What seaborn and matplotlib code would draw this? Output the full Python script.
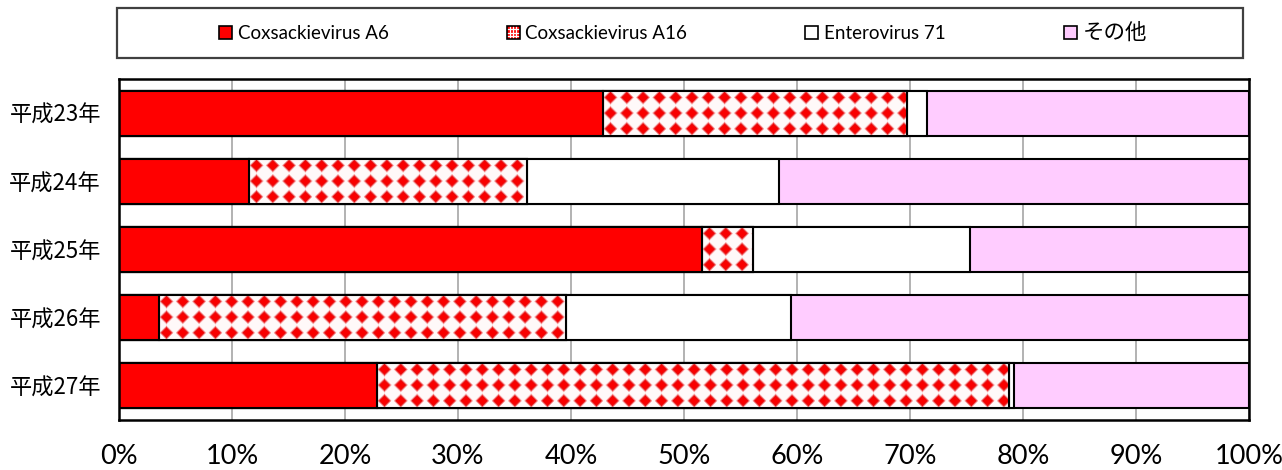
import numpy as np
import pandas as pd
import matplotlib
matplotlib.use("Agg")
import matplotlib.pyplot as plt
import matplotlib.patches as mpatches
from matplotlib.legend_handler import HandlerBase
from matplotlib.lines import Line2D
import seaborn as sns

# ---- data (percent of detected viruses per year) ----
years = ["平成23年", "平成24年", "平成25年", "平成26年", "平成27年"]
cva6 = [42.8, 11.5, 51.6, 3.5, 22.8]
cva16 = [26.9, 24.6, 4.5, 36.1, 56.0]
ev71 = [1.8, 22.3, 19.2, 19.9, 0.4]
other = [28.5, 41.6, 24.7, 40.5, 20.8]
series_names = ["Coxsackievirus A6", "Coxsackievirus A16", "Enterovirus 71", "その他"]
xtick_vals = [0, 10, 20, 30, 40, 50, 60, 70, 80, 90, 100]

sns.set_theme(style="white")
plt.rcParams["font.family"] = ["Lato", "Noto Sans CJK JP", "DejaVu Sans"]

RED = "#ff0000"
PINK = "#ffccff"

W, H, DPI = 1282, 470, 100
fig = plt.figure(figsize=(W / DPI, H / DPI), dpi=DPI)
ax_l, ax_r, ax_t, ax_b = 119, 1249, 79, 420
ax = fig.add_axes([ax_l / W, (H - ax_b) / H, (ax_r - ax_l) / W, (ax_b - ax_t) / H])

df = pd.DataFrame({"year": years, "a6": cva6, "a16": cva16, "ev71": ev71, "other": other})
df["c1"] = df["a6"]
df["c2"] = df["c1"] + df["a16"]
df["c3"] = df["c2"] + df["ev71"]
df["c4"] = df["c3"] + df["other"]

bar_w = 0.66
edge = dict(edgecolor="black", linewidth=1.5)

# stacked layers drawn from the outermost cumulative total inward
layers = [("c4", PINK, 2.0), ("c3", "white", 2.1), ("c2", "white", 2.2), ("c1", RED, 2.4)]
containers = {}
for col, color, z in layers:
    n_before = len(ax.patches)
    sns.barplot(data=df, x=col, y="year", orient="h", color=color, width=bar_w,
                saturation=1, ax=ax, **edge)
    new = ax.patches[n_before:]
    for p in new:
        p.set_zorder(z)
        p.set_facecolor(color)
    containers[col] = new

ax.set_xlim(0, 100)
ax.set_ylim(len(years) - 0.5, -0.5)

# diamond texture for the Coxsackievirus A16 segment
px_per_unit = (ax_r - ax_l) / 100.0
bar_px = bar_w * (ax_b - ax_t) / len(years)


def diamond_texture(w_px, h_px, sx=16.3, sy=15.3, ox=7.5, oy=7.3, a=6.6, b=6.4):
    xs = np.arange(w_px) + 0.5
    ys = np.arange(h_px) + 0.5
    X, Y = np.meshgrid(xs, ys)
    dx = ((X - ox) + sx / 2) % sx - sx / 2
    dy = ((Y - oy) + sy / 2) % sy - sy / 2
    d = np.abs(dx) / a + np.abs(dy) / b
    t = np.clip((1.15 - d) / 0.4, 0, 1)
    edge_shade = np.clip((d - 0.55) / 0.5, 0, 1) * t
    img = np.ones((h_px, w_px, 3))
    bg = np.array([1.0, 0.98, 0.98])
    fg = np.array([0.98, 0.0, 0.0])
    dark = np.array([0.80, 0.10, 0.12])
    img[:] = bg
    core = fg * (1 - edge_shade[..., None]) + dark * edge_shade[..., None]
    img = img * (1 - t[..., None]) + core * t[..., None]
    return np.clip(img, 0, 1)


for i, p in enumerate(containers["c2"]):
    x0, x1 = df["c1"][i], df["c2"][i]
    y0 = p.get_y()
    y1 = y0 + p.get_height()
    w_px = max(int(round((x1 - x0) * px_per_unit)), 1)
    h_px = max(int(round(bar_px)), 1)
    tex = diamond_texture(w_px, h_px)
    im = ax.imshow(tex, extent=(x0, x1, y1, y0), aspect="auto", interpolation="bilinear",
                   zorder=2.25)
    im.set_clip_path(p)
    # outline of the segment above the texture
    outline = mpatches.Rectangle((x0, y0), x1 - x0, y1 - y0, fill=False,
                                 edgecolor="black", linewidth=1.5, zorder=2.3)
    ax.add_patch(outline)

ax.set_ylim(len(years) - 0.5, -0.5)
ax.set_xlim(0, 100)
ax.set_aspect("auto")

# axes styling
ax.set_xticks(xtick_vals)
ax.set_xticklabels([f"{v}%" for v in xtick_vals], fontsize=19.5, family=["Lato", "DejaVu Sans"])
ax.set_yticks(range(len(years)))
ax.set_yticklabels(years, fontsize=16, family=["Noto Sans CJK JP", "DejaVu Sans"])
ax.tick_params(axis="x", length=0, pad=17, colors="black")
ax.tick_params(axis="y", length=0, pad=13, colors="black")
ax.set_xlabel("")
ax.set_ylabel("")
ax.xaxis.grid(True, color="#a6a6a6", linewidth=1.2)
ax.yaxis.grid(False)
ax.set_axisbelow(True)
for s in ax.spines.values():
    s.set_visible(True)
    s.set_color("black")
    s.set_linewidth(1.8)

# legend box
lx0, lx1, ly0, ly1 = 117, 1243, 8, 58
box = mpatches.Rectangle((lx0 / W, (H - ly1) / H), (lx1 - lx0) / W, (ly1 - ly0) / H,
                         transform=fig.transFigure, facecolor="white", edgecolor="#404040",
                         linewidth=1.6, zorder=0)
fig.patches.append(box)


class CheckerHandler(HandlerBase):
    def create_artists(self, legend, orig_handle, xdescent, ydescent, width, height,
                       fontsize, trans):
        arts = [mpatches.Rectangle((-xdescent, -ydescent), width, height, facecolor=RED,
                                   edgecolor="none", transform=trans)]
        for k in (1, 2, 3):
            xx = -xdescent + width * k / 4
            yy = -ydescent + height * k / 4
            arts.append(Line2D([xx, xx], [-ydescent, -ydescent + height], color="white",
                               lw=0.9, transform=trans))
            arts.append(Line2D([-xdescent, -xdescent + width], [yy, yy], color="white",
                               lw=0.9, transform=trans))
        arts.append(mpatches.Rectangle((-xdescent, -ydescent), width, height, fill=False,
                                       edgecolor="black", linewidth=1.2, transform=trans))
        return arts


class CheckerPatch(mpatches.Rectangle):
    pass


handles = [
    mpatches.Patch(facecolor=RED, edgecolor="black", linewidth=1.2),
    CheckerPatch((0, 0), 1, 1),
    mpatches.Patch(facecolor="white", edgecolor="black", linewidth=1.2),
    mpatches.Patch(facecolor=PINK, edgecolor="black", linewidth=1.2),
]
leg = fig.legend(handles, series_names, loc="center", ncol=4,
                 bbox_to_anchor=(683 / W, (H - 33) / H), frameon=False,
                 fontsize=13.5, handlelength=0.7, handleheight=0.7,
                 handletextpad=0.3, columnspacing=6.3,
                 handler_map={CheckerPatch: CheckerHandler()})
for t in leg.get_texts():
    t.set_color("black")
leg.get_texts()[3].set_fontsize(15.5)

fig.savefig("out.png", dpi=DPI, facecolor="white")
